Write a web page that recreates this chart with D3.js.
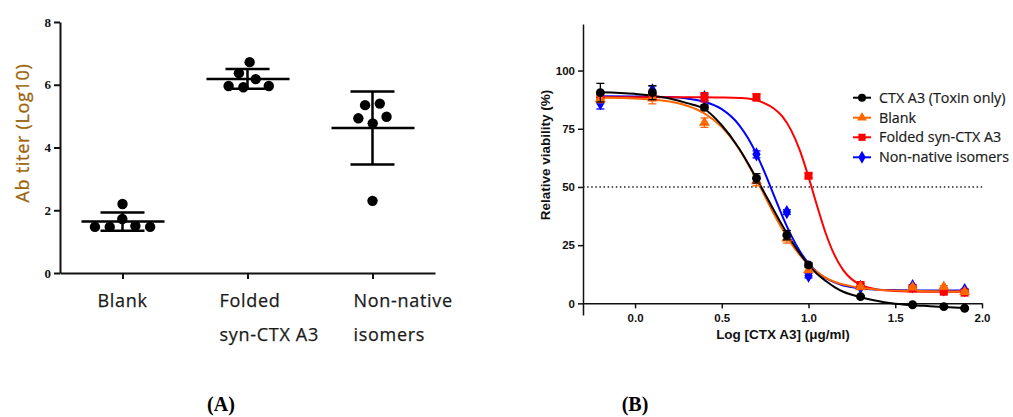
<!DOCTYPE html>
<html><head><meta charset="utf-8">
<script src="https://cdn.jsdelivr.net/npm/d3@7"></script>
<style>body{margin:0;background:#fff}</style>
</head><body><svg id="c" width="1013" height="417"></svg>
<script>
// ---------- Panel A data ----------
const titerCategories = ["Blank", "Folded syn-CTX A3", "Non-native isomers"];
const titerLabelLines = [["Blank"], ["Folded", "syn-CTX A3"], ["Non-native", "isomers"]];
const titerBlank = [1.72, 1.47, 2.20, 1.47, 1.47, 1.50];
const titerFolded = [6.37, 5.96, 6.72, 5.92, 5.96, 6.18];
const titerNonNative = [4.93, 5.35, 4.77, 2.30, 5.40, 4.98];
const titerTicks = [0, 2, 4, 6, 8];

// ---------- Panel B data ----------
const seriesNames = ["CTX A3 (Toxin only)", "Blank", "Folded syn-CTX A3", "Non-native isomers"];
const doseLog = [-0.2, 0.1, 0.4, 0.7, 0.875, 1.0, 1.3, 1.6, 1.78, 1.9];
const viabToxin    = [90.5, 90.5, 84.2, 53.7, 29.3, 16.5, 2.9, -0.6, -1.4, -2.1];
const errToxin     = [4, 3, 1, 2, 2, 1, 0.5, 0.5, 0.5, 0.5];
const viabBlank    = [87.7, 88.2, 77.6, 52.5, 27.9, 14.3, 7.0, 6.9, 7.1, 5.0];
const errBlank     = [1.5, 2.5, 2, 2, 2, 1, 0.5, 0.5, 0.5, 0.5];
const viabFolded   = [88.0, 88.5, 88.5, 88.5, null, 54.8, 7.9, 6.4, 5.0, 4.6];
const errFolded    = [1.5, 1, 2, 1.5, 0, 1, 0.5, 0.5, 0.5, 0.5];
const viabNonNative= [86.0, 91.4, 88.5, 64.0, 39.2, 11.9, 7.0, 7.4, 6.0, 5.7];
const errNonNative = [2.5, 2, 1.5, 1.5, 1, 1, 0.5, 0.5, 0.5, 0.5];
// fitted dose-response curves
const fitLog       = [-0.2, 0.0, 0.2, 0.3, 0.4, 0.5, 0.6, 0.65, 0.7, 0.75, 0.8, 0.85, 0.9, 0.95, 1.0, 1.05, 1.1, 1.15, 1.2, 1.25, 1.3, 1.4, 1.5, 1.6, 1.7, 1.8, 1.9];
const fitToxin     = [90.7, 90.0, 88.0, 86.0, 83.5, 76.5, 66.5, 60.3, 53.7, 46.9, 40.0, 33.3, 27.0, 21.4, 16.5, 12.6, 9.6, 7.0, 5.0, 3.7, 2.6, 1.0, -0.2, -0.8, -1.2, -1.6, -2.0];
const fitBlank     = [88.4, 88.0, 86.7, 84.9, 81.6, 75.7, 66.2, 60.0, 53.1, 45.8, 38.5, 31.7, 25.7, 20.7, 16.6, 13.4, 11.0, 9.3, 8.1, 7.3, 6.7, 5.9, 5.5, 5.3, 5.2, 5.1, 5.1];
const fitFolded    = [88.5, 88.5, 88.5, 88.5, 88.5, 88.4, 88.2, 88.0, 87.3, 85.8, 83.7, 80.2, 74.3, 65.7, 54.3, 41.7, 29.9, 20.7, 14.3, 10.3, 8.0, 5.9, 5.3, 5.1, 5.0, 5.0, 5.0];
const fitNonNative = [89.0, 88.9, 88.6, 88.0, 86.6, 83.4, 76.6, 71.1, 64.1, 55.7, 46.5, 37.4, 29.2, 22.4, 17.2, 13.4, 10.8, 9.0, 7.7, 7.0, 6.4, 5.9, 5.7, 5.6, 5.5, 5.5, 5.5];
const viabTicks = [0, 25, 50, 75, 100];
const doseTicks = [0, 0.5, 1.0, 1.5, 2.0];
const refLine = 50;

const svg = d3.select("#c");
svg.append("rect").attr("width", 1013).attr("height", 417).attr("fill", "#fff");

// ================= Panel A =================
const gA = svg.append("g");
const xA = d3.scalePoint().domain(titerCategories).range([60, 435]).padding(0.5);
const yA = d3.scaleLinear().domain([0, 8]).range([273, 22]);

const axA = gA.append("g").attr("transform", "translate(60,0)")
  .call(d3.axisLeft(yA).tickValues(titerTicks).tickSize(6).tickSizeOuter(0).tickPadding(3).tickFormat(d3.format("d")));
axA.selectAll("path,line").attr("stroke", "#111").attr("stroke-width", 2);
axA.selectAll("text").attr("font-family", "Liberation Serif").attr("font-weight", "bold").attr("font-size", 13).attr("fill", "#111");

const axAx = gA.append("g").attr("transform", "translate(0,273)")
  .call(d3.axisBottom(xA).tickSize(6).tickSizeOuter(0).tickFormat(""));
axAx.selectAll("path,line").attr("stroke", "#111").attr("stroke-width", 2);

// category labels
const labelShift = [0, -28, -19];
titerCategories.forEach((c, i) => {
  const lines = titerLabelLines[i];
  const t = gA.append("text")
    .attr("font-family", "Open Sans").attr("font-size", 18).attr("letter-spacing", 0.7)
    .attr("fill", "#1a1a1a").attr("stroke", "#1a1a1a").attr("stroke-width", 0.25)
    .attr("text-anchor", lines.length === 1 ? "middle" : "start");
  lines.forEach((ln, j) => {
    t.append("tspan").attr("x", xA(c) + (lines.length === 1 ? 0 : labelShift[i])).attr("y", 307 + j * 34).text(ln);
  });
});

gA.append("text").attr("transform", "translate(29,133) rotate(-90)")
  .attr("text-anchor", "middle").attr("font-family", "Open Sans").attr("font-size", 18).attr("letter-spacing", 0.7)
  .attr("fill", "#9c640c").attr("stroke", "#9c640c").attr("stroke-width", 0.3).text("Ab titer (Log10)");

const titerGroups = [titerBlank, titerFolded, titerNonNative];
titerGroups.forEach((vals, gi) => {
  const cx = xA(titerCategories[gi]);
  const nodes = vals.map((v, i) => ({ v, x: cx + (i - (vals.length - 1) / 2) * 2, y: yA(v), fy: yA(v) }));
  const sim = d3.forceSimulation(nodes)
    .force("x", d3.forceX(cx).strength(0.08))
    .force("collide", d3.forceCollide(7.4).strength(1))
    .stop();
  for (let k = 0; k < 400; k++) sim.tick();
  gA.selectAll(null).data(nodes).enter().append("circle")
    .attr("cx", d => d.x).attr("cy", d => d.fy).attr("r", 5.2).attr("fill", "#000");
  const m = d3.mean(vals), sd = d3.deviation(vals);
  gA.append("line").attr("x1", cx - 41).attr("x2", cx + 42).attr("y1", yA(m)).attr("y2", yA(m))
    .attr("stroke", "#000").attr("stroke-width", 2.5);
  gA.append("line").attr("x1", cx).attr("x2", cx).attr("y1", yA(m + sd)).attr("y2", yA(m - sd))
    .attr("stroke", "#000").attr("stroke-width", 2.5);
  [m + sd, m - sd].forEach(v => gA.append("line").attr("x1", cx - 22).attr("x2", cx + 22)
    .attr("y1", yA(v)).attr("y2", yA(v)).attr("stroke", "#000").attr("stroke-width", 2.5));
});

// ================= Panel B =================
const gB = svg.append("g");
const xB = d3.scaleLinear().domain([-0.3, 2.0]).range([583, 982]);
const yB = d3.scaleLinear().domain([-5, 120]).range([315, 24]);

const axBy = gB.append("g").attr("transform", "translate(583,0)")
  .call(d3.axisLeft(yB).tickValues(viabTicks).tickSize(5).tickSizeOuter(0).tickPadding(3));
const axBx = gB.append("g").attr("transform", `translate(0,${yB(0)})`)
  .call(d3.axisBottom(xB).tickValues(doseTicks).tickSize(5).tickSizeOuter(0).tickPadding(5).tickFormat(d3.format(".1f")));
[axBy, axBx].forEach(a => {
  a.selectAll("path,line").attr("stroke", "#111").attr("stroke-width", 1.5);
  a.selectAll("text").attr("font-family", "Liberation Sans").attr("font-weight", "bold").attr("font-size", 11.5).attr("fill", "#111");
});

gB.append("text").attr("x", 783).attr("y", 339).attr("text-anchor", "middle")
  .attr("font-family", "Liberation Sans").attr("font-weight", "bold").attr("font-size", 13.5).attr("fill", "#111")
  .text("Log [CTX A3] (μg/ml)");
gB.append("text").attr("transform", "translate(550,155) rotate(-90)").attr("text-anchor", "middle")
  .attr("font-family", "Liberation Sans").attr("font-weight", "bold").attr("font-size", 13.5).attr("fill", "#111")
  .text("Relative viability (%)");

// reference line at 50%
gB.append("line").attr("x1", xB(-0.3)).attr("x2", 983).attr("y1", yB(refLine)).attr("y2", yB(refLine))
  .attr("stroke", "#222").attr("stroke-width", 1.5).attr("stroke-dasharray", "1.5,2.6");

const colors = ["#000000", "#ff6600", "#ff0000", "#0000ff"];
const pointVals = [viabToxin, viabBlank, viabFolded, viabNonNative];
const pointErrs = [errToxin, errBlank, errFolded, errNonNative];
const fits = [fitToxin, fitBlank, fitFolded, fitNonNative];
const symbols = [d3.symbolCircle, d3.symbolTriangle, d3.symbolSquare, d3.symbolDiamond];
const symSizes = [62, 52, 64, 60];

const line = d3.line().x((d, i) => xB(fitLog[i])).y(d => yB(d)).curve(d3.curveMonotoneX);
const drawOrder = [3, 2, 1, 0];
drawOrder.forEach(s => {
  gB.append("path").datum(fits[s]).attr("d", line).attr("fill", "none")
    .attr("stroke", colors[s]).attr("stroke-width", 2);
});
drawOrder.forEach(s => {
  const pts = doseLog.map((x, i) => ({ x, v: pointVals[s][i], e: pointErrs[s][i] })).filter(d => d.v !== null);
  const g = gB.append("g");
  pts.forEach(d => {
    const x = xB(d.x);
    if (d.e > 0) {
      g.append("line").attr("x1", x).attr("x2", x).attr("y1", yB(d.v + d.e)).attr("y2", yB(d.v - d.e)).attr("stroke", colors[s]).attr("stroke-width", 1.3);
      [d.v + d.e, d.v - d.e].forEach(v => g.append("line").attr("x1", x - 4).attr("x2", x + 4).attr("y1", yB(v)).attr("y2", yB(v)).attr("stroke", colors[s]).attr("stroke-width", 1.3));
    }
    g.append("path").attr("d", d3.symbol(symbols[s], symSizes[s])()).attr("transform", `translate(${x},${yB(d.v)})`).attr("fill", colors[s]);
  });
});

// legend
const legRows = [97.7, 117.7, 137.3, 157.3];
seriesNames.forEach((n, i) => {
  const y = legRows[i];
  gB.append("line").attr("x1", 853).attr("x2", 871).attr("y1", y).attr("y2", y).attr("stroke", colors[i]).attr("stroke-width", 2);
  gB.append("path").attr("d", d3.symbol(symbols[i], symSizes[i] * 0.8)()).attr("transform", `translate(862,${y})`).attr("fill", colors[i]);
  gB.append("text").attr("x", 879).attr("y", y + 5).attr("font-family", "Open Sans").attr("font-size", 14.3)
    .attr("fill", "#1a1a1a").attr("stroke", "#1a1a1a").attr("stroke-width", 0.2).text(n);
});

// panel captions
svg.append("text").attr("x", 221).attr("y", 411).attr("text-anchor", "middle").attr("font-family", "Liberation Serif")
  .attr("font-weight", "bold").attr("font-size", 20).attr("fill", "#000").text("(A)");
svg.append("text").attr("x", 635).attr("y", 411).attr("text-anchor", "middle").attr("font-family", "Liberation Serif")
  .attr("font-weight", "bold").attr("font-size", 20).attr("fill", "#000").text("(B)");
</script>
</body></html>
